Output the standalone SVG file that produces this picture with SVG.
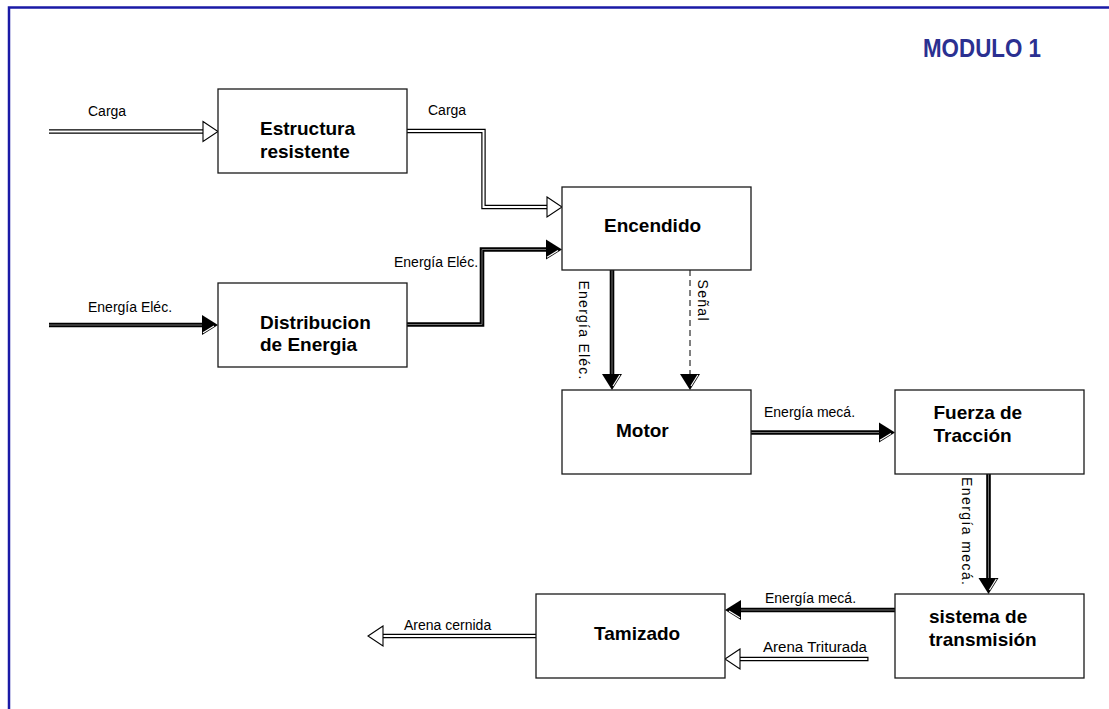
<svg xmlns="http://www.w3.org/2000/svg" width="1109" height="709" viewBox="0 0 1109 709">
  <style>
    .box { fill: #fff; stroke: #1a1a1a; stroke-width: 1.3; }
    .title { font-family: "Liberation Sans", Arial, sans-serif; font-weight: bold; font-size: 19px; fill: #000; }
    .lbl { font-family: "Liberation Sans", Arial, sans-serif; font-size: 14px; fill: #000; }
    .hol-o { fill: none; stroke: #000; stroke-width: 4.4; stroke-linejoin: miter; }
    .hol-i { fill: none; stroke: #fff; stroke-width: 2; stroke-linejoin: miter; }
    .en-o { fill: none; stroke: #000; stroke-width: 4.6; stroke-linejoin: miter; }
    .en-i { fill: none; stroke: #707070; stroke-width: 1; stroke-linejoin: miter; }
    .sig { fill: none; stroke: #000; stroke-width: 1; stroke-dasharray: 6 4; }
  </style>
  <defs>
    <!-- filled energy arrowheads, tip at origin, light stripe on the lower/right edge -->
    <g id="ahE-r">
      <polygon points="-16,-10 0,0 -16,10" fill="#000"/>
      <line x1="-15" y1="7.8" x2="-4" y2="1" stroke="#fff" stroke-width="1.2"/>
    </g>
    <g id="ahE-l">
      <polygon points="16,-10 0,0 16,10" fill="#000"/>
      <line x1="15" y1="7.8" x2="4" y2="1" stroke="#fff" stroke-width="1.2"/>
    </g>
    <g id="ahE-d">
      <polygon points="-10,-16 0,0 10,-16" fill="#000"/>
      <line x1="7.8" y1="-15" x2="1" y2="-4" stroke="#fff" stroke-width="1.2"/>
    </g>
    <!-- hollow material arrowheads -->
    <polygon id="ahH-r" points="-15,-10 0,0 -15,10" fill="#fff" stroke="#000" stroke-width="1.1"/>
    <polygon id="ahH-l" points="15,-10 0,0 15,10" fill="#fff" stroke="#000" stroke-width="1.1"/>
  </defs>

  <rect width="1109" height="709" fill="#fff"/>
  <!-- sheet frame -->
  <path d="M9,709 V7.5 H1109" fill="none" stroke="#1a1aa6" stroke-width="2.5"/>
  <text x="923" y="57" font-family="'Liberation Sans', Arial, sans-serif" font-weight="bold" font-size="26" fill="#2b3091" textLength="118" lengthAdjust="spacingAndGlyphs">MODULO 1</text>

  <g id="connectors">
    <!-- Carga into Estructura resistente -->
    <path class="hol-o" d="M49,131.5 H204"/>
    <path class="hol-i" d="M49,131.5 H205"/>
    <use href="#ahH-r" x="218" y="131.5"/>
    <text class="lbl" x="88" y="116">Carga</text>

    <!-- Carga to Encendido -->
    <path class="hol-o" d="M407,131 H483.5 V207 H548"/>
    <path class="hol-i" d="M406,131 H483.5 V207 H549"/>
    <use href="#ahH-r" x="562" y="207"/>
    <text class="lbl" x="428" y="115">Carga</text>

    <!-- Energia electrica into Distribucion -->
    <path class="en-o" d="M49,325 H204"/>
    <path class="en-i" d="M49,325 H204"/>
    <use href="#ahE-r" x="218" y="325"/>
    <text class="lbl" x="88" y="311.5">Energía Eléc.</text>

    <!-- Distribucion to Encendido -->
    <path class="en-o" d="M407,324.5 H482 V249.5 H548"/>
    <path class="en-i" d="M407,324.5 H482 V249.5 H548"/>
    <use href="#ahE-r" x="562" y="249.5"/>
    <text class="lbl" x="394" y="266.5">Energía Eléc.</text>

    <!-- Encendido to Motor -->
    <path class="en-o" d="M612,270 V376"/>
    <path class="en-i" d="M612,270 V376"/>
    <use href="#ahE-d" x="612" y="390"/>
    <text class="lbl" transform="translate(579,280.5) rotate(90)" textLength="99" lengthAdjust="spacing">Energía Eléc.</text>

    <!-- Senal to Motor -->
    <path class="sig" d="M690,270 V376"/>
    <use href="#ahE-d" x="690" y="390"/>
    <text class="lbl" transform="translate(698,279.5) rotate(90)" textLength="41" lengthAdjust="spacing">Señal</text>

    <!-- Motor to Fuerza de Traccion -->
    <path class="en-o" d="M751,432.5 H881"/>
    <path class="en-i" d="M751,432.5 H881"/>
    <use href="#ahE-r" x="895" y="432.5"/>
    <text class="lbl" x="764" y="416.5">Energía mecá.</text>

    <!-- Fuerza de Traccion to sistema de transmision -->
    <path class="en-o" d="M988.5,474 V580"/>
    <path class="en-i" d="M988.5,474 V580"/>
    <use href="#ahE-d" x="988.5" y="594"/>
    <text class="lbl" transform="translate(962,477) rotate(90)" textLength="108" lengthAdjust="spacing">Energía mecá.</text>

    <!-- sistema de transmision to Tamizado -->
    <path class="en-o" d="M895,610 H739"/>
    <path class="en-i" d="M895,610 H739"/>
    <use href="#ahE-l" x="725" y="610"/>
    <text class="lbl" x="765" y="602.5">Energía mecá.</text>

    <!-- Arena Triturada into Tamizado -->
    <path class="hol-o" d="M868.5,659 H739"/>
    <path class="hol-i" d="M867.3,659 H738"/>
    <use href="#ahH-l" x="725" y="659"/>
    <text class="lbl" x="763" y="652" textLength="104" lengthAdjust="spacingAndGlyphs">Arena Triturada</text>

    <!-- Arena cernida out of Tamizado -->
    <path class="hol-o" d="M536,636 H382"/>
    <path class="hol-i" d="M537,636 H381"/>
    <use href="#ahH-l" x="368" y="636"/>
    <text class="lbl" x="404" y="629.5">Arena cernida</text>
  </g>

  <g id="estructura">
    <rect class="box" x="218" y="89" width="189" height="84"/>
    <text class="title" x="260" y="134.5">Estructura</text>
    <text class="title" x="260" y="157.5">resistente</text>
  </g>
  <g id="distribucion">
    <rect class="box" x="218" y="283" width="189" height="84"/>
    <text class="title" x="260" y="328.5">Distribucion</text>
    <text class="title" x="260" y="351">de Energia</text>
  </g>
  <g id="encendido">
    <rect class="box" x="562" y="187" width="189" height="83"/>
    <text class="title" x="604" y="231.5">Encendido</text>
  </g>
  <g id="motor">
    <rect class="box" x="562" y="390" width="189" height="84"/>
    <text class="title" x="616" y="436.5">Motor</text>
  </g>
  <g id="fuerza">
    <rect class="box" x="895" y="390" width="189" height="84"/>
    <text class="title" x="933.5" y="419">Fuerza de</text>
    <text class="title" x="933.5" y="442">Tracción</text>
  </g>
  <g id="sistema">
    <rect class="box" x="895" y="594" width="189" height="84"/>
    <text class="title" x="929" y="623">sistema de</text>
    <text class="title" x="929" y="646">transmisión</text>
  </g>
  <g id="tamizado">
    <rect class="box" x="536" y="594" width="189" height="84"/>
    <text class="title" x="594" y="640">Tamizado</text>
  </g>
</svg>
